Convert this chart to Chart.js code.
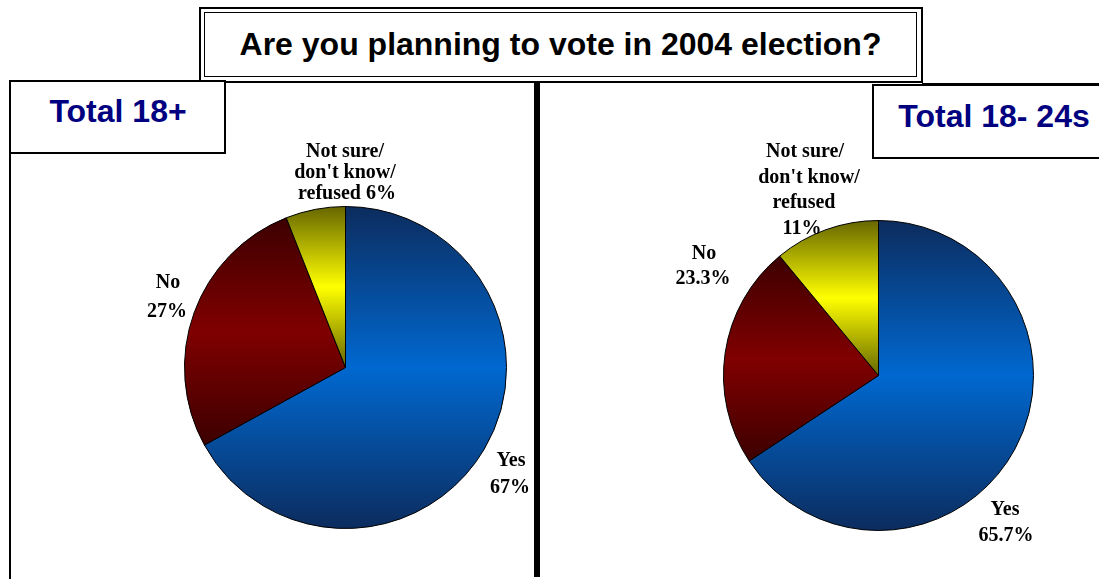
<!DOCTYPE html>
<html>
<head>
<meta charset="utf-8">
<title>Are you planning to vote in 2004 election?</title>
<script src="https://cdn.jsdelivr.net/npm/chart.js@4.4.1/dist/chart.umd.min.js"></script>
<style>
  html, body { margin: 0; padding: 0; background: #fff; }
  body { position: relative; width: 1099px; height: 579px; overflow: hidden; }
  .abs { position: absolute; box-sizing: border-box; }
  canvas { position: absolute; left: 0; top: 0; }
  .rule { background: #000; }
  .frame { border: 2px solid #000; }
  #titleOuter { left: 199px; top: 7px; width: 724px; height: 76px; border: 2px solid #000; background: #fff; }
  #titleInner { left: 204px; top: 12px; width: 713px; height: 65px; border: 1px solid #000; }
  #titleText { left: 204px; top: 12px; width: 713px; height: 65px; text-align: center;
               font: bold 32px "Liberation Sans", Arial, sans-serif; line-height: 65px; color: #000; }
  .panelTitle { font: bold 32px "Liberation Sans", Arial, sans-serif; line-height: 36px; color: #000080; text-align: center; white-space: nowrap; }
</style>
</head>
<body>
<!-- panel frames -->
<div class="abs rule" style="left:9px; top:80px; width:2px; height:499px;"></div>
<div class="abs rule" style="left:9px; top:80px; width:192px; height:2px;"></div>
<div class="abs rule" style="left:922px; top:83px; width:177px; height:2px;"></div>
<div class="abs rule" style="left:534px; top:82px; width:6px; height:495px;"></div>

<!-- heading box with double border -->
<div class="abs" id="titleOuter"></div>
<div class="abs" id="titleInner"></div>
<div class="abs" id="titleText"></div>

<!-- panel caption boxes -->
<div class="abs frame" style="left:9px; top:80px; width:217px; height:74px; background:#fff;"></div>
<div class="abs frame" style="left:872px; top:84px; width:230px; height:75px; background:#fff;"></div>
<div class="abs panelTitle" id="panelTitleA" style="left:11px; top:93px; width:214px;"></div>
<div class="abs panelTitle" id="panelTitleB" style="left:874px; top:98px; width:240px;"></div>

<canvas id="pieAll" width="1099" height="579"></canvas>
<canvas id="pieYoung" width="1099" height="579"></canvas>

<script>
// ---- data ----
const heading = 'Are you planning to vote in 2004 election?';
const panelTitles = ['Total 18+', 'Total 18- 24s'];
const categories = ['Yes', 'No', "Not sure/ don't know/ refused"];
const totalValues = [67, 27, 6];       // all adults 18+
const youngValues = [65.7, 23.3, 11];  // 18-24 year olds

// how each category name is broken over lines in the callouts
const nameLinesAll   = [['Yes'], ['No'], ['Not sure/', "don't know/", 'refused']];
const nameLinesYoung = [['Yes'], ['No'], ['Not sure/', "don't know/", 'refused']];

// ---- styling ----
// [edge shade, centre shade] for each slice's vertical gradient
const sliceShades = [
  ['#0c2c5e', '#0068d0'],
  ['#3c0000', '#800000'],
  ['#666600', '#ffff00']
];

document.getElementById('titleText').textContent = heading;
document.getElementById('panelTitleA').textContent = panelTitles[0];
document.getElementById('panelTitleB').textContent = panelTitles[1];

// Fill every arc with a vertical gradient spanning its own height.
const shadePlugin = {
  id: 'shade',
  beforeDatasetsDraw(chart) {
    const ctx = chart.ctx;
    chart.getDatasetMeta(0).data.forEach((arc, i) => {
      const p = arc.getProps(['x', 'y', 'startAngle', 'endAngle', 'outerRadius'], true);
      const ys = [p.y,
        p.y + Math.sin(p.startAngle) * p.outerRadius,
        p.y + Math.sin(p.endAngle) * p.outerRadius];
      [-Math.PI / 2, Math.PI / 2, 3 * Math.PI / 2].forEach(a => {
        if (a > p.startAngle && a < p.endAngle) ys.push(p.y + Math.sin(a) * p.outerRadius);
      });
      const y0 = Math.min(...ys), y1 = Math.max(...ys);
      const g = ctx.createLinearGradient(0, y0, 0, y1);
      const [edge, mid] = sliceShades[i % sliceShades.length];
      g.addColorStop(0, edge);
      g.addColorStop(0.5, mid);
      g.addColorStop(1, edge);
      arc.options = Object.assign({}, arc.options, { backgroundColor: g });
    });
  }
};

// Callout text next to each slice: category name plus its percentage.
const calloutPlugin = {
  id: 'callouts',
  afterDraw(chart, args, opts) {
    const ctx = chart.ctx;
    const values = chart.data.datasets[0].data;
    ctx.save();
    ctx.font = 'bold 20px "Liberation Serif", "Times New Roman", serif';
    ctx.fillStyle = '#000';
    ctx.textAlign = 'center';
    ctx.textBaseline = 'middle';
    opts.items.forEach((item, i) => {
      const lines = opts.names[i].slice();
      const pct = values[i] + '%';
      if (item.joinValue) lines[lines.length - 1] += ' ' + pct;
      else lines.push(pct);
      lines.forEach((t, k) => {
        const dx = item.shift ? (item.shift[k] || 0) : 0;
        ctx.fillText(t, item.x + dx, item.y + k * item.step);
      });
    });
    ctx.restore();
  }
};

function makePie(id, values, names, padding, items) {
  return new Chart(document.getElementById(id), {
    type: 'pie',
    data: {
      labels: categories,
      datasets: [{
        data: values,
        backgroundColor: sliceShades.map(s => s[1]),
        borderColor: '#000',
        borderWidth: 1,
        hoverOffset: 0,
        hoverBorderWidth: 1
      }]
    },
    options: {
      responsive: false,
      animation: false,
      devicePixelRatio: 1,
      events: [],
      layout: { padding },
      plugins: {
        legend: { display: false },
        tooltip: { enabled: false },
        callouts: { names, items }
      }
    },
    plugins: [shadePlugin, calloutPlugin]
  });
}

makePie('pieAll', totalValues, nameLinesAll,
  { left: 184, right: 592, top: 206, bottom: 50 },
  [
    { x: 510, y: 461, step: 27, shift: [1, 0] },
    { x: 167, y: 283, step: 29, shift: [1, 0] },
    { x: 345, y: 152, step: 21, joinValue: true, shift: [0, 0, 2] }
  ]);

makePie('pieYoung', youngValues, nameLinesYoung,
  { left: 723, right: 65, top: 220, bottom: 48 },
  [
    { x: 1005, y: 510, step: 26, shift: [0, 1] },
    { x: 703, y: 254, step: 25, shift: [1, 0] },
    { x: 805, y: 152, step: 25.5, shift: [0, 4, -1, -3] }
  ]);
</script>
</body>
</html>
